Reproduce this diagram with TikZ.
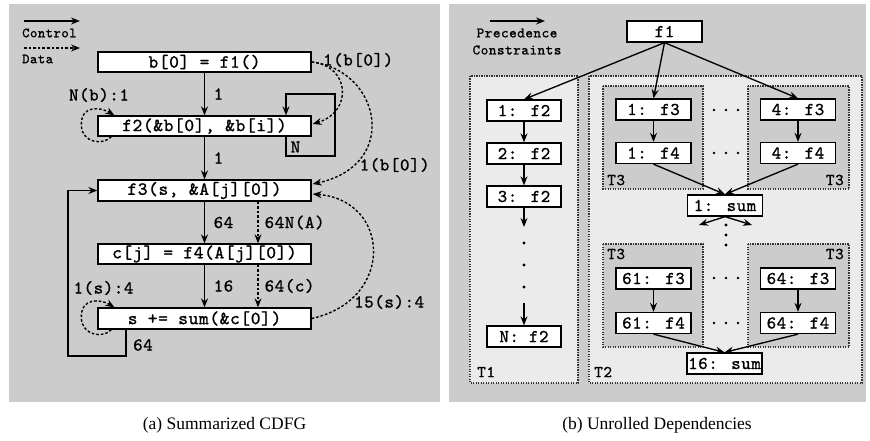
\documentclass[tikz,border=0pt]{standalone}
\usepackage{fontspec}
\setmainfont{Liberation Serif}
\newfontfamily\code{lmmono10-regular}[Extension=.otf,LetterSpace=3.5,FakeBold=1.2]
\usetikzlibrary{arrows.meta,calc}
\definecolor{panelgray}{HTML}{CCCCCC}
\definecolor{regiongray}{HTML}{EBEBEB}
\definecolor{borderdots}{HTML}{333333}

\begin{document}
\begin{tikzpicture}[x=1pt,y=-1pt,
  tip/.style={-{Stealth[length=9pt,width=7pt,inset=3pt]}},
  ctrl/.style={tip, line width=1.35pt},
  data/.style={tip, line width=1.4pt, dash pattern=on 2.6pt off 2pt},
  bigbox/.style={draw, fill=white, line width=1.3pt, minimum width=213pt,
    minimum height=20pt, inner sep=0pt, font=\code\fontsize{18.5}{20}\selectfont},
  smallbox/.style={draw, fill=white, line width=1.3pt, minimum width=75pt,
    minimum height=21pt, inner sep=0pt, font=\code\fontsize{18}{19}\selectfont},
  lab/.style={inner sep=1pt, font=\code\fontsize{18}{19}\selectfont},
  legend/.style={inner sep=1pt, font=\code\fontsize{14}{15}\selectfont},
  tlab/.style={inner sep=1pt, font=\code\fontsize{16.5}{17}\selectfont},
  region/.style={draw=borderdots, fill=regiongray, line width=1.3pt,
    dash pattern=on 1.3pt off 1.2pt},
  subregion/.style={draw=borderdots, fill=panelgray, line width=1.3pt,
    dash pattern=on 1.3pt off 1.2pt},
  dot/.style={fill=black, circle, inner sep=0pt, minimum size=3.2pt}
]
\useasboundingbox (0,0) rectangle (870,441);

% panel backgrounds
\fill[panelgray] (9,4) rectangle (440,402);
\fill[panelgray] (449,4) rectangle (866,402);

% ---------------- (a) summarized CDFG ----------------
% legend
\coordinate (lc0) at (24,21);  \coordinate (lc1) at (80,21);
\coordinate (ld0) at (24,48);  \coordinate (ld1) at (80,48);
\draw[ctrl] (lc0) -- (lc1);
\node[legend, anchor=west] (lgc) at (21,33) {Control};
\draw[data] (ld0) -- (ld1);
\node[legend, anchor=west] (lgd) at (21,59) {Data};

% statements
\node[bigbox] (b0) at (204.5,62) {b[0] = f1()};
\node[bigbox] (f2) at (204.5,126) {f2(\&b[0], \&b[i])};
\node[bigbox, minimum height=21pt] (f3) at (204.5,190.5) {f3(s, \&A[j][0])};
\node[bigbox] (f4) at (204.5,254) {c[j] = f4(A[j][0])};
\node[bigbox, minimum height=21pt] (sum) at (204.5,318.5) {s += sum(\&c[0])};

% control flow
\draw[ctrl] (b0) -- node[lab, right=7.5pt] {1} (f2);
\draw[ctrl] (f2) -- node[lab, right=7.5pt] {1} (f3);
\draw[ctrl] (f3) -- node[lab, right=7.5pt] {64} (f4);
\draw[ctrl] (f4) -- node[lab, right=7.5pt] {16} (sum);

% inner loop on f2
\coordinate (nl) at (286,156);
\coordinate (nr) at (335,94);
\draw[ctrl] (f2.south -| nl) -- (nl) -| (nr) -| (f2.north -| nl);
\node[lab] (nlab) at (295.5,147) {N};

% outer loop back to f3
\coordinate (bl) at (126,356);
\coordinate (lx) at (68,0);
\draw[ctrl] (sum.south -| bl) -- (bl) -| (f3.west -| lx) -- (f3.west);
\node[lab, anchor=west] (l64) at (132,345) {64};

% data dependencies
\coordinate (dcol) at (258,0);
\draw[data] (f3.south -| dcol) -- node[lab, right=5pt] {64N(A)} (f4.north -| dcol);
\draw[data] (f4.south -| dcol) -- node[lab, right=5pt] {64(c)} (sum.north -| dcol);

% self dependencies drawn as small circular loops
\draw[data] ($(f2.south west)+(14,0)$) .. controls +(-8,9) and +(1,17) ..
  ($(f2.west)+(-16,0)$) .. controls +(-1,-22) and +(-13,-8) .. ($(f2.north west)+(17,0)$);
\node[lab] (lb1) at (99,95) {N(b):1};
\draw[data] ($(sum.south west)+(14,0)$) .. controls +(-8,9) and +(1,17) ..
  ($(sum.west)+(-16,0)$) .. controls +(-1,-22) and +(-13,-8) .. ($(sum.north west)+(17,0)$);
\node[lab] (ls1) at (103.5,288) {1(s):4};

\draw[data] (b0.east) .. controls +(39,4) and +(40,-12) .. ($(f2.east)+(1,-2)$);
\draw[data] (b0.east) .. controls +(69,8) and +(88,-19) .. ($(f3.east)+(1,-6.5)$);
\draw[data] (sum.east) .. controls +(84,-18.5) and +(78,6) .. ($(f3.east)+(1,3.5)$);
\node[lab, anchor=west] (lbb1) at (322,60) {1(b[0])};
\node[lab, anchor=west] (lbb2) at (358.5,165) {1(b[0])};
\node[lab, anchor=west] (ls15) at (353,302) {15(s):4};

% ---------------- (b) unrolled dependencies ----------------
% legend
\coordinate (rl0) at (490,21); \coordinate (rl1) at (545,21);
\draw[ctrl] (rl0) -- (rl1);
\node[legend, font=\code\fontsize{14.5}{15}\selectfont] (lp1) at (517,33) {Precedence};
\node[legend, font=\code\fontsize{14.5}{15}\selectfont] (lp2) at (517,50) {Constraints};

% task regions
\draw[region] (470,76) rectangle (578,383);
\draw[region] (589,76) rectangle (862,383);
\node[tlab, anchor=west] (t1) at (476,372) {T1};
\node[tlab, anchor=west] (t2) at (593,372) {T2};

\draw[subregion] (603,86) rectangle (703,189);
\draw[subregion] (748,86) rectangle (849,189);
\draw[subregion] (603,244) rectangle (703,347);
\draw[subregion] (748,244) rectangle (849,347);
\node[tlab, anchor=west] (t3a) at (606,180) {T3};
\node[tlab, anchor=east] (t3b) at (845,180) {T3};
\node[tlab, anchor=west] (t3c) at (606,254) {T3};
\node[tlab, anchor=east] (t3d) at (845,254) {T3};

% tasks
\node[smallbox] (f1) at (664.5,31.5) {f1};
\node[smallbox, minimum width=74pt] (n1f2) at (524,110.5) {1: f2};
\node[smallbox, minimum width=74pt] (n2f2) at (524,153.5) {2: f2};
\node[smallbox, minimum width=74pt] (n3f2) at (524,196.5) {3: f2};
\node[smallbox, minimum width=74pt] (nNf2) at (524,336.5) {N: f2};

\node[smallbox] (a1f3) at (653.5,109.5) {1: f3};
\node[smallbox] (a1f4) at (653.5,153) {1: f4};
\node[smallbox] (a4f3) at (798,109.5) {4: f3};
\node[smallbox] (a4f4) at (798,153) {4: f4};
\node[smallbox] (s1) at (725,205.5) {1: sum};

\node[smallbox] (b61f3) at (653.5,278.5) {61: f3};
\node[smallbox] (b61f4) at (653.5,323) {61: f4};
\node[smallbox] (b64f3) at (798,278.5) {64: f3};
\node[smallbox] (b64f4) at (798,323) {64: f4};
\node[smallbox] (s16) at (724.5,363.5) {16: sum};

% precedence edges
\draw[ctrl] (f1.south) -- (n1f2.north);
\draw[ctrl] (f1.south) -- (a1f3.north);
\draw[ctrl] (f1.south) -- (a4f3.north);

\draw[ctrl] (n1f2) -- (n2f2);
\draw[ctrl] (n2f2) -- (n3f2);
\coordinate (t1a) at (524,227);
\coordinate (t1b) at (524,303);
\draw[ctrl] (n3f2) -- (t1a);
\draw[ctrl] (t1b) -- (nNf2);
\foreach \yy in {243,265,287} \node[dot] at (524,\yy) {};

\draw[ctrl] (a1f3) -- (a1f4);
\draw[ctrl] (a4f3) -- (a4f4);
\draw[ctrl] (a1f4.south) -- (s1.north);
\draw[ctrl] (a4f4.south) -- (s1.north);

\coordinate (sl) at (699,225);
\coordinate (sr) at (752,225);
\draw[ctrl] (s1.south) -- (sl);
\draw[ctrl] (s1.south) -- (sr);
\foreach \yy in {225,235,245} \node[dot] at (726,\yy) {};

\draw[ctrl] (b61f3) -- (b61f4);
\draw[ctrl] (b64f3) -- (b64f4);
\draw[ctrl] (b61f4.south) -- (s16.north);
\draw[ctrl] (b64f4.south) -- (s16.north);

\foreach \yy in {110,153,278,323}
  \foreach \xx in {714,726,738} \node[dot, minimum size=2.8pt] at (\xx,\yy) {};

% captions
\node[font=\fontsize{17.5}{20}\selectfont] (capa) at (224.5,425) {(a) Summarized CDFG};
\node[font=\fontsize{17.5}{20}\selectfont] (capb) at (657,425) {(b) Unrolled Dependencies};
\end{tikzpicture}
\end{document}
